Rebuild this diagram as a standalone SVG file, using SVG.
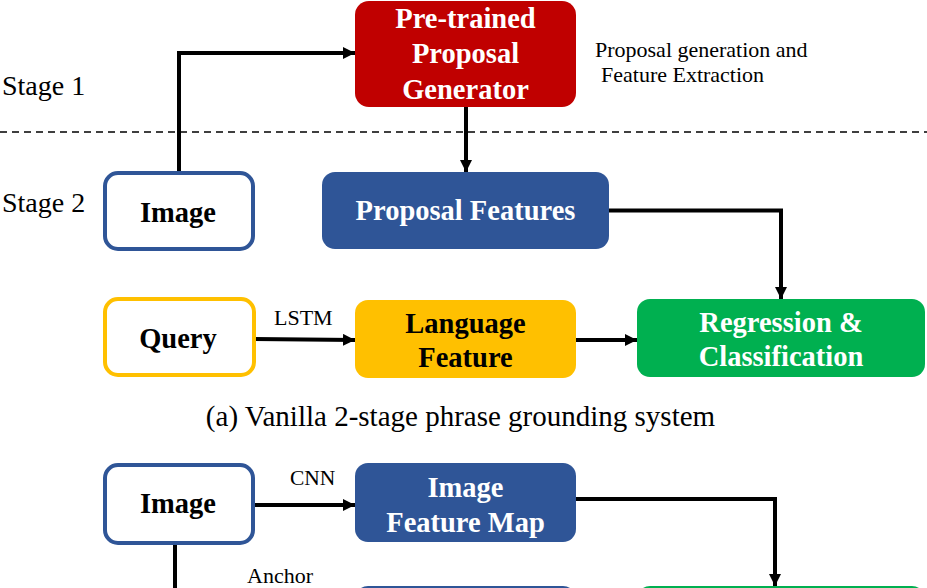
<svg xmlns="http://www.w3.org/2000/svg" width="927" height="588" viewBox="0 0 927 588">
<defs>
<marker id="arr" viewBox="0 0 12 12" refX="12" refY="6" markerWidth="12" markerHeight="12" markerUnits="userSpaceOnUse" orient="auto">
<path d="M0,0 L12,6 L0,12 Z" fill="#000"/>
</marker>
<style>
.lbl{font-family:"Liberation Serif","Times New Roman",serif;fill:#000}
.bt{font-family:"Liberation Serif","Times New Roman",serif;font-weight:bold;font-size:28.5px;text-anchor:middle}
.w{fill:#fff}
.k{fill:#000}
.con{fill:none;stroke:#000;stroke-width:4}
.outline{fill:#fff;stroke-width:4}
</style>
</defs>
<rect width="927" height="588" fill="#fff"/>

<g id="stage-labels">
<text class="lbl" x="2" y="95" font-size="28">Stage 1</text>
<text class="lbl" x="2" y="212" font-size="28">Stage 2</text>
<line x1="0" y1="132" x2="927" y2="132" stroke="#000" stroke-width="1.5" stroke-dasharray="7,5"/>
<text class="lbl" x="595" y="57" font-size="22">Proposal  generation and</text>
<text class="lbl" x="601" y="82" font-size="22">Feature Extraction</text>
</g>

<g id="connectors">
<polyline class="con" points="179,172 179,53 355,53" marker-end="url(#arr)"/>
<line class="con" x1="466" y1="107" x2="466" y2="172" marker-end="url(#arr)"/>
<polyline class="con" points="609,210.5 781,210.5 781,299" marker-end="url(#arr)"/>
<line class="con" x1="254" y1="339" x2="355" y2="340" marker-end="url(#arr)"/>
<line class="con" x1="576" y1="340" x2="637" y2="340" marker-end="url(#arr)"/>
<line class="con" x1="254" y1="505" x2="355" y2="505" marker-end="url(#arr)"/>
<polyline class="con" points="576,499 775,499 775,586" marker-end="url(#arr)"/>
<line class="con" x1="175" y1="544" x2="175" y2="588"/>
<text class="lbl" x="274" y="325" font-size="22">LSTM</text>
<text class="lbl" x="290" y="485" font-size="21.5">CNN</text>
<text class="lbl" x="247" y="583" font-size="22">Anchor</text>
</g>

<g id="pretrained">
<rect x="355" y="1" width="221" height="106" rx="14" fill="#C00000"/>
<text class="bt w" x="465.5" y="28">Pre-trained</text>
<text class="bt w" x="465.5" y="63">Proposal</text>
<text class="bt w" x="465.5" y="99">Generator</text>
</g>

<g id="image1">
<rect class="outline" x="105" y="173" width="148" height="76" rx="13" stroke="#2F5597"/>
<text class="bt k" x="178" y="222">Image</text>
</g>

<g id="proposal-features">
<rect x="322" y="172" width="287" height="77" rx="13" fill="#2F5597"/>
<text class="bt w" x="465.5" y="220">Proposal Features</text>
</g>

<g id="query">
<rect class="outline" x="105" y="299" width="149" height="76" rx="13" stroke="#FFC000"/>
<text class="bt k" x="178" y="348">Query</text>
</g>

<g id="language-feature">
<rect x="355" y="300" width="221" height="78" rx="13" fill="#FFC000"/>
<text class="bt k" x="465.5" y="333">Language</text>
<text class="bt k" x="465.5" y="367">Feature</text>
</g>

<g id="regression">
<rect x="637" y="299" width="288" height="78" rx="13" fill="#00B050"/>
<text class="bt w" x="781" y="332">Regression &amp;</text>
<text class="bt w" x="781" y="366">Classification</text>
</g>

<g id="caption">
<text class="lbl" x="460.5" y="426" font-size="29" text-anchor="middle">(a) Vanilla 2-stage phrase grounding system</text>
</g>

<g id="image2">
<rect class="outline" x="105" y="465" width="148" height="78" rx="13" stroke="#2F5597"/>
<text class="bt k" x="178" y="513">Image</text>
</g>

<g id="image-feature-map">
<rect x="355" y="463" width="221" height="79" rx="13" fill="#2F5597"/>
<text class="bt w" x="465.5" y="497">Image</text>
<text class="bt w" x="465.5" y="532">Feature Map</text>
</g>

<g id="bottom-blue">
<rect x="355" y="586" width="221" height="40" rx="13" fill="#2F5597"/>
</g>
<g id="bottom-green">
<rect x="637" y="586" width="288" height="40" rx="13" fill="#00B050"/>
</g>
</svg>
